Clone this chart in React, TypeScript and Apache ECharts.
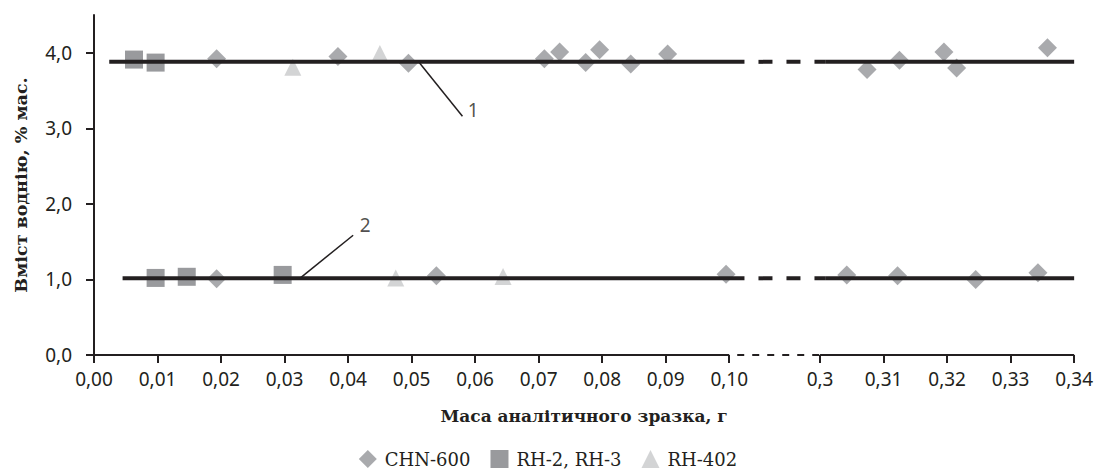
import React, { useEffect, useRef } from "react";
import * as echarts from "echarts";

// ---- axis definition (broken x axis: 0..0.10 | 0.30..0.34) ----
const X_TICKS = [0, 0.01, 0.02, 0.03, 0.04, 0.05, 0.06, 0.07, 0.08, 0.09, 0.1, 0.3, 0.31, 0.32, 0.33, 0.34];
const X_TICK_LABELS = ["0,00", "0,01", "0,02", "0,03", "0,04", "0,05", "0,06", "0,07", "0,08", "0,09", "0,10", "0,3", "0,31", "0,32", "0,33", "0,34"];
const Y_TICKS = [0, 1, 2, 3, 4];
const LEFT_MAX = 0.1;
const RIGHT_MIN = 0.3;
const RIGHT_MAX = 0.34;
const BREAK_GAP = 0.0143;

// ---- data ----
const CHN600_X = [0.0193, 0.0384, 0.0495, 0.0709, 0.0733, 0.0774, 0.0796, 0.0845, 0.0903, 0.3074, 0.3125, 0.3195, 0.3215, 0.3358,
  0.0193, 0.0539, 0.0995, 0.3042, 0.3122, 0.3245, 0.3343];
const CHN600_Y = [3.92, 3.95, 3.86, 3.92, 4.01, 3.87, 4.04, 3.85, 3.985, 3.78, 3.9, 4.01, 3.8, 4.065,
  1.01, 1.05, 1.07, 1.06, 1.05, 1.0, 1.09];
const RH23_X = [0.0063, 0.0097, 0.0097, 0.0146, 0.0297];
const RH23_Y = [3.91, 3.87, 1.02, 1.035, 1.06];
const RH402_X = [0.0313, 0.045, 0.0475, 0.0644];
const RH402_Y = [3.81, 3.99, 1.02, 1.04];

// mean levels: [level, start x]
const MEAN_LEVELS = [3.88, 1.015];
const MEAN_START = [0.0024, 0.0045];
const MEAN_END = 0.34;

// annotations
const ANNOT_TEXT = ["1", "2"];
const ANNOT_FROM_X = [0.0511, 0.0324];
const ANNOT_TO = [[0.058, 3.16], [0.0408, 1.585]];
const ANNOT_LABEL_AT = [[0.0597, 3.24], [0.0427, 1.72]];

const tx = (x: number) => (x <= 0.2 ? x : x - RIGHT_MIN + LEFT_MAX + BREAK_GAP);

const DARK = "#231f20";
const NUM_FONT = '"Noto Sans", sans-serif';
const SERIF = '"DejaVu Serif", serif';

export default function App() {
  const ref = useRef<HTMLDivElement>(null);
  useEffect(() => {
    if (!ref.current) return;
    const chart = echarts.init(ref.current, undefined, { renderer: "svg" });

    const pts = (xs: number[], ys: number[]) => xs.map((x, i) => [tx(x), ys[i]]);
    const overhangL = LEFT_MAX + 0.0024;
    const overhangR = tx(RIGHT_MIN) + 0.0008;

    const lineSeries = (data: number[][], width: number, type: any, dashOffset = 0, z = 5) => ({
      type: "line",
      data,
      symbol: "none",
      silent: true,
      clip: false,
      z,
      lineStyle: { color: DARK, width, type, dashOffset },
      emphasis: { disabled: true },
    });

    const series: any[] = [
      {
        name: "CHN-600", type: "scatter", symbol: "diamond", symbolSize: 19,
        itemStyle: { color: "#939598" }, data: pts(CHN600_X, CHN600_Y), z: 2,
      },
      {
        name: "RH-2, RH-3", type: "scatter", symbol: "rect", symbolSize: 18,
        itemStyle: { color: "#808184" }, data: pts(RH23_X, RH23_Y), z: 2,
      },
      {
        name: "RH-402", type: "scatter", symbol: "triangle", symbolSize: 17,
        itemStyle: { color: "#c8c9cb" }, data: pts(RH402_X, RH402_Y), z: 2,
      },
    ];

    MEAN_LEVELS.forEach((lv, i) => {
      series.push(lineSeries([[tx(MEAN_START[i]), lv], [overhangL, lv]], 4, "solid"));
      series.push(lineSeries([[overhangL, lv], [overhangR, lv]], 4, [14, 14], 14));
      series.push(lineSeries([[overhangR, lv], [tx(MEAN_END), lv]], 4, "solid"));
    });

    // x axis line with break
    series.push(lineSeries([[0, 0], [LEFT_MAX, 0]], 2, "solid"));
    series.push(lineSeries([[LEFT_MAX, 0], [tx(RIGHT_MIN), 0]], 2, [7, 8], 7));
    series.push(lineSeries([[tx(RIGHT_MIN), 0], [tx(RIGHT_MAX), 0]], 2, "solid"));

    // annotation leaders
    ANNOT_TEXT.forEach((t, i) => {
      const lv = MEAN_LEVELS[i];
      series.push(lineSeries([[ANNOT_FROM_X[i], lv], ANNOT_TO[i]], 1.5, "solid", 0, 6));
    });
    series.push({
      type: "scatter",
      symbolSize: 1,
      silent: true,
      itemStyle: { color: "rgba(0,0,0,0)" },
      data: ANNOT_LABEL_AT.map((p, i) => ({ value: p, label: { formatter: ANNOT_TEXT[i] } })),
      label: { show: true, position: "inside", color: DARK, fontSize: 19, fontFamily: NUM_FONT },
      z: 7,
    });

    chart.setOption({
      animation: false,
      grid: { left: 94, right: 21, top: 15, bottom: 114, containLabel: false },
      legend: {
        data: [
          { name: "CHN-600", icon: "diamond" },
          { name: "RH-2, RH-3", icon: "rect" },
          { name: "RH-402", icon: "triangle" },
        ],
        left: "center",
        top: 445,
        itemWidth: 18,
        itemHeight: 18,
        itemGap: 20,
        selectedMode: false,
        textStyle: { fontFamily: SERIF, fontSize: 18, color: DARK, padding: [0, 0, 0, 3] },
      },
      xAxis: {
        type: "value",
        min: 0,
        max: tx(RIGHT_MAX),
        name: "Маса аналітичного зразка, г",
        nameLocation: "middle",
        nameGap: 61,
        nameTextStyle: { fontFamily: SERIF, fontWeight: "bold", fontSize: 17, color: DARK, verticalAlign: "middle" },
        splitLine: { show: false },
        axisLine: { show: false },
        axisTick: {
          show: true, length: 8, inside: false,
          customValues: X_TICKS.map(tx),
          lineStyle: { color: DARK, width: 2 },
        },
        axisLabel: {
          customValues: X_TICKS.map(tx),
          margin: 14,
          hideOverlap: false,
          fontFamily: NUM_FONT,
          fontSize: 19,
          color: DARK,
          formatter: (v: number) => {
            const i = X_TICKS.findIndex((t) => Math.abs(tx(t) - v) < 1e-6);
            return i >= 0 ? X_TICK_LABELS[i] : "";
          },
        },
      },
      yAxis: {
        type: "value",
        min: 0,
        max: 4.5,
        name: "Вміст воднію, % мас.",
        nameLocation: "middle",
        nameGap: 73,
        nameTextStyle: { fontFamily: SERIF, fontWeight: "bold", fontSize: 17.5, color: DARK, verticalAlign: "middle" },
        splitLine: { show: false },
        axisLine: { show: true, lineStyle: { color: DARK, width: 2 } },
        axisTick: {
          show: true, length: 8, inside: false,
          customValues: Y_TICKS,
          lineStyle: { color: DARK, width: 2 },
        },
        axisLabel: {
          customValues: Y_TICKS,
          margin: 22,
          fontFamily: NUM_FONT,
          fontSize: 19,
          color: DARK,
          formatter: (v: number) => v.toFixed(1).replace(".", ","),
        },
      },
      series,
    });

    return () => chart.dispose();
  }, []);

  return <div ref={ref} style={{ width: 1096, height: 469, position: "absolute", left: 0, top: 0 }} />;
}
